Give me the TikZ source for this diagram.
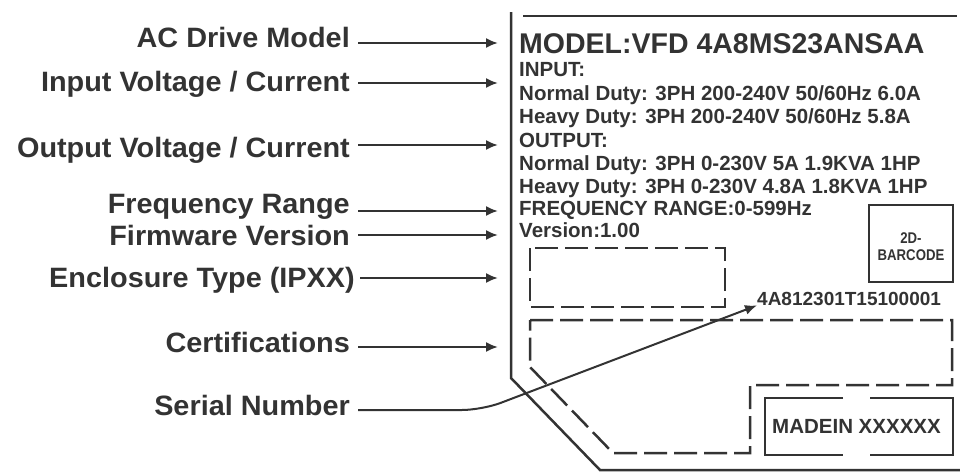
\documentclass[tikz,border=0pt]{standalone}
\usepackage{fontspec}
\setmainfont{Liberation Sans}
\newfontfamily\wideface[FakeStretch=1.03]{Liberation Sans}
\newfontfamily\narrowface[FakeStretch=0.85]{Liberation Sans}
\usetikzlibrary{arrows.meta}
\definecolor{ink}{HTML}{333333}
\tikzset{
  lbl/.style={anchor=base east,inner xsep=8pt,inner ysep=0pt,text=ink,
    font=\wideface\bfseries\fontsize{28}{30}\selectfont},
  plate/.style={anchor=base west,inner sep=0pt,text=ink,
    font=\bfseries\fontsize{20.5}{23}\selectfont},
  pointer/.style={draw=ink,line width=2pt,-{Latex[length=12pt,width=10pt]}},
  edge/.style={draw=ink,line width=2.5pt},
  dashbox/.style={draw=ink,line width=2.5pt,dash pattern=on 23pt off 7pt}
}
\begin{document}
\begin{tikzpicture}[x=1pt,y=-1pt]
  \useasboundingbox (0,0) rectangle (960,471);
  % the plate
  \draw[edge] (511,12) -- (511,378) -- (600,470) -- (960,470);
  \draw[edge] (523,16) -- (957,16);
  \node[plate,font=\bfseries\fontsize{28.5}{30}\selectfont] (model) at (519,53) {MODEL:VFD 4A8MS23ANSAA};
  \node[plate] (input) at (519,76) {INPUT:};
  \node[plate] (in normal) at (519,100) {Normal Duty: 3PH 200-240V 50/60Hz 6.0A};
  \node[plate] (in heavy) at (519,123) {Heavy Duty: 3PH 200-240V 50/60Hz 5.8A};
  \node[plate] (output) at (519,147) {OUTPUT:};
  \node[plate] (out normal) at (519,170) {Normal Duty: 3PH 0-230V 5A 1.9KVA 1HP};
  \node[plate] (out heavy) at (519,193) {Heavy Duty: 3PH 0-230V 4.8A 1.8KVA 1HP};
  \node[plate] (freq) at (519,215) {FREQUENCY RANGE:0-599Hz};
  \node[plate] (version) at (519,237) {Version:1.00};
  \draw[dashbox] (530,248) rectangle (725,307);
  \draw[dashbox] (530,320) -- (952,320) -- (952,385) -- (750,385) -- (750,453)
    -- (613,453) -- (530,367) -- cycle;
  \draw[edge] (869,205) rectangle (953,282);
  \node[align=center,text=ink,font=\narrowface\bfseries\fontsize{15.5}{17}\selectfont] (barcode) at (911,247) {2D-\\BARCODE};
  \node[plate,font=\bfseries\fontsize{19}{21}\selectfont] (serial) at (757,305) {4A812301T15100001};
  \draw[edge] (843,398) -- (765,398) -- (765,455) -- (843,455)
    (870,455) -- (953,455) -- (953,398) -- (870,398);
  \node[plate] (made) at (772,433) {MADEIN XXXXXX};
  % the captions
  \node[lbl] (model lbl) at (358,47) {AC Drive Model};
  \node[lbl] (input lbl) at (358,91) {Input Voltage / Current};
  \node[lbl] (output lbl) at (358,157) {Output Voltage / Current};
  \node[lbl] (freq lbl) at (358,213) {Frequency Range};
  \node[lbl] (version lbl) at (358,245) {Firmware Version};
  \node[lbl,inner xsep=5pt] (ip lbl) at (360,287) {Enclosure Type (IPXX)};
  \node[lbl] (cert lbl) at (358,352) {Certifications};
  \node[lbl] (serial lbl) at (358,415) {Serial Number};
  \coordinate (model tip) at (498,43);
  \coordinate (input tip) at (498,83);
  \coordinate (output tip) at (498,145);
  \coordinate (freq tip) at (498,211);
  \coordinate (version tip) at (498,235);
  \coordinate (ip tip) at (498,278);
  \coordinate (cert tip) at (498,347);
  \coordinate (bend) at (482,410);
  \draw[pointer] (model lbl.east |- model tip) -- (model tip);
  \draw[pointer] (input lbl.east |- input tip) -- (input tip);
  \draw[pointer] (output lbl.east |- output tip) -- (output tip);
  \draw[pointer] (freq lbl.east |- freq tip) -- (freq tip);
  \draw[pointer] (version lbl.east |- version tip) -- (version tip);
  \draw[pointer] (ip lbl.east |- ip tip) -- (ip tip);
  \draw[pointer] (cert lbl.east |- cert tip) -- (cert tip);
  \draw[pointer,rounded corners=20pt] (serial lbl.east |- bend) -- (bend) -- (serial.south west);
\end{tikzpicture}
\end{document}
